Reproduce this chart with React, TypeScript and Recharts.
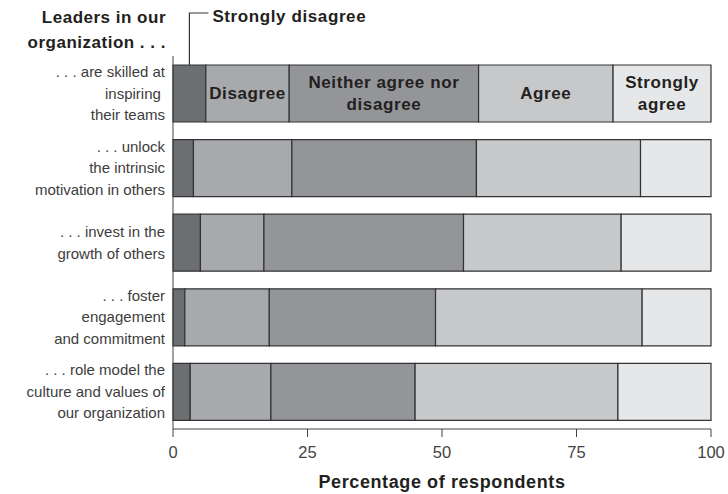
import { BarChart, Bar, XAxis, YAxis, LabelList } from "recharts";

const FONT = "'Liberation Sans', Arial, Helvetica, sans-serif";

// statements, one entry per row, already split into display lines
const statements = [
  [". . . are skilled at", "inspiring ", "their teams"],
  [". . . unlock", "the intrinsic", "motivation in others"],
  [". . . invest in the", "growth of others"],
  [". . . foster", "engagement", "and commitment"],
  [". . . role model the", "culture and values of", "our organization"],
];

// share of respondents (%) per answer
const stronglyDisagree = [6.1, 3.8, 5.1, 2.2, 3.2];
const disagree = [15.5, 18.3, 11.8, 15.7, 15.0];
const neither = [35.2, 34.3, 37.1, 30.9, 26.8];
const agree = [25.0, 30.5, 29.3, 38.4, 37.7];
const stronglyAgree = [18.2, 13.1, 16.7, 12.8, 17.3];

const answerLines = [
  ["Strongly disagree"],
  ["Disagree"],
  ["Neither agree nor", "disagree"],
  ["Agree"],
  ["Strongly", "agree"],
];
const answerColors = ["#6d6e71", "#a7a9ac", "#939598", "#c7c8ca", "#e6e7e8"];
const answerKeys = ["sd", "d", "n", "a", "sa"];

const xTicks = [0, 25, 50, 75, 100];

const data = statements.map((lines, i) => ({
  name: lines.join(" "),
  sd: stronglyDisagree[i],
  d: disagree[i],
  n: neither[i],
  a: agree[i],
  sa: stronglyAgree[i],
}));

const linesByName: Record<string, string[]> = {};
statements.forEach((l) => (linesByName[l.join(" ")] = l));

const LINE_H = 21.5;

function StatementTick(props: any) {
  const { x, y, payload } = props;
  const lines = linesByName[payload.value] || [payload.value];
  const start = y - ((lines.length - 1) * LINE_H) / 2;
  return (
    <text x={x} textAnchor="end" fontFamily={FONT} fontSize={15} fill="#3d3d3d" style={{ whiteSpace: "pre" }}>
      {lines.map((l, i) => (
        <tspan key={i} x={x} y={start + i * LINE_H} dy="0.35em">
          {l}
        </tspan>
      ))}
    </text>
  );
}

// labels sit inside the first row only
function makeSegmentLabel(lines: string[]) {
  return (props: any) => {
    const { x, y, width, height, index } = props;
    if (index !== 0) return null;
    const cx = Number(x) + Number(width) / 2;
    const cy = Number(y) + Number(height) / 2;
    const start = cy - ((lines.length - 1) * 22) / 2;
    return (
      <text textAnchor="middle" fontFamily={FONT} fontSize={17} fontWeight="bold" letterSpacing={0.6} fill="#231f20">
        {lines.map((l, i) => (
          <tspan key={i} x={cx} y={start + i * 22} dy="0.35em">
            {l}
          </tspan>
        ))}
      </text>
    );
  };
}

// the thin first segment gets a callout above the bar instead
function stronglyDisagreeCallout(props: any) {
  const { x, y, width, index } = props;
  if (index !== 0) return null;
  const cx = Number(x) + Number(width) / 2;
  const top = 13;
  return (
    <g>
      <path d={`M${cx},${Number(y)} V${top} H${cx + 19}`} stroke="#333" strokeWidth={1.2} fill="none" />
      <text x={cx + 23} y={top + 3} dy="0.35em" fontFamily={FONT} fontSize={17} fontWeight="bold" letterSpacing={0.6} fill="#231f20">
        {answerLines[0][0]}
      </text>
    </g>
  );
}

export default function App() {
  return (
    <div style={{ position: "absolute", left: 0, top: 0, width: 728, height: 494, background: "#fff" }}>
      <BarChart
        width={728}
        height={494}
        data={data}
        layout="vertical"
        barSize={57}
        margin={{ top: 56, right: 17, bottom: 5, left: 0 }}
      >
        <text textAnchor="end" fontFamily={FONT} fontSize={17} fontWeight="bold" letterSpacing={0.5} fill="#231f20">
          <tspan x={166} y={17} dy="0.35em">Leaders in our</tspan>
          <tspan x={166} y={42} dy="0.35em">organization . . .</tspan>
        </text>
        <XAxis
          type="number"
          domain={[0, 100]}
          ticks={xTicks}
          height={60}
          stroke="#444"
          tickSize={8}
          tickMargin={9}
          tick={{ fontSize: 16.5, fill: "#444", fontFamily: FONT }}
          label={{
            value: "Percentage of respondents",
            position: "insideBottom",
            offset: 1,
            fontSize: 18,
            fontWeight: "bold",
            fontFamily: FONT,
            fill: "#231f20",
            letterSpacing: 0.6,
          }}
        />
        <YAxis
          type="category"
          dataKey="name"
          width={173}
          stroke="#444"
          tickLine={false}
          tickSize={0}
          tickMargin={8}
          tick={<StatementTick />}
        />
        {answerKeys.map((k, i) => (
          <Bar
            key={k}
            dataKey={k}
            stackId="a"
            fill={answerColors[i]}
            stroke="#333"
            strokeWidth={1.2}
            isAnimationActive={false}
          >
            <LabelList dataKey={k} content={i === 0 ? stronglyDisagreeCallout : makeSegmentLabel(answerLines[i])} />
          </Bar>
        ))}
      </BarChart>
    </div>
  );
}
